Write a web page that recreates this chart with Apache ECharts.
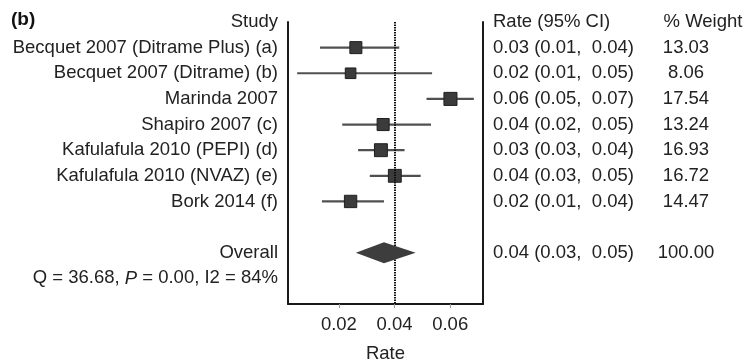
<!DOCTYPE html>
<html>
<head>
<meta charset="utf-8">
<script src="https://cdn.jsdelivr.net/npm/echarts@6/dist/echarts.min.js"></script>
<style>
  html, body { margin: 0; padding: 0; background: #fff; }
  #chart { width: 744px; height: 364px; }
</style>
</head>
<body>
<div id="chart"></div>
<script>
const studies = [
  "Becquet 2007 (Ditrame Plus) (a)",
  "Becquet 2007 (Ditrame) (b)",
  "Marinda 2007",
  "Shapiro 2007 (c)",
  "Kafulafula 2010 (PEPI) (d)",
  "Kafulafula 2010 (NVAZ) (e)",
  "Bork 2014 (f)",
];
const estimates = [0.0261, 0.0242, 0.0601, 0.0359, 0.0351, 0.0401, 0.0242];
const lower = [0.0132, 0.0050, 0.0515, 0.0212, 0.0269, 0.0311, 0.0139];
const upper = [0.0417, 0.0535, 0.0685, 0.0531, 0.0436, 0.0494, 0.0362];
const weights = [13.03, 8.06, 17.54, 13.24, 16.93, 16.72, 14.47];
const rateText = [
  "0.03 (0.01,  0.04)",
  "0.02 (0.01,  0.05)",
  "0.06 (0.05,  0.07)",
  "0.04 (0.02,  0.05)",
  "0.03 (0.03,  0.04)",
  "0.04 (0.03,  0.05)",
  "0.02 (0.01,  0.04)",
];
const overallEst = 0.0362;
const overallLower = 0.0261;
const overallUpper = 0.0476;
const overallText = "0.04 (0.03,  0.05)";
const overallWeight = "100.00";
const heterogeneity = "Q = 36.68, {i|P} = 0.00, I2 = 84%";
const xTicks = [0.02, 0.04, 0.06];

// row 0 is the header, studies on rows 1..7, overall on row 9
const overallRow = 9;
const textColor = "#222";
const font = "Liberation Sans, Arial, Helvetica, sans-serif";
const fontSize = 18.5;

const leftLabels = ["Study", ...studies, "", "Overall", heterogeneity, ""];
const rateLabels = ["Rate (95% CI)", ...rateText, "", overallText, "", ""];
const weightLabels = ["{h|% Weight}", ...weights.map((w) => w.toFixed(2)), "", overallWeight, "", ""];

const ciData = studies.map((s, i) => [lower[i], upper[i], i + 1]);
const pointData = studies.map((s, i) => [estimates[i], i + 1, weights[i]]);

const rowAxis = {
  type: "value",
  inverse: true,
  min: 0,
  max: 11,
  interval: 1,
  splitLine: { show: false },
  axisTick: { show: false },
};

const chart = echarts.init(document.getElementById("chart"));
chart.setOption({
  animation: false,
  textStyle: { fontFamily: font },
  grid: { left: 288, right: 261, top: 22, bottom: 60, outerBoundsMode: "none", containLabel: false },
  graphic: [
    {
      type: "text",
      left: 11,
      top: 10,
      style: { text: "(b)", font: "bold 19px " + font, fill: "#111" },
    },
  ],
  xAxis: {
    type: "value",
    min: 0.0017,
    max: 0.0718,
    name: "Rate",
    nameLocation: "middle",
    nameGap: 40,
    nameTextStyle: { color: textColor, fontSize: fontSize },
    axisLine: { show: true, onZero: false, lineStyle: { color: "#1a1a1a", width: 2 } },
    axisTick: { show: true, length: 4, customValues: xTicks, lineStyle: { color: "#999" } },
    axisLabel: {
      customValues: xTicks,
      color: textColor,
      fontSize: fontSize,
      margin: 11,
      formatter: (v) => v.toFixed(2),
    },
    splitLine: { show: false },
  },
  yAxis: [
    {
      ...rowAxis,
      position: "left",
      axisLine: { show: true, onZero: false, lineStyle: { color: "#1a1a1a", width: 2 } },
      axisLabel: {
        margin: 10,
        color: textColor,
        fontSize: fontSize,
        formatter: (v) => leftLabels[v] || "",
        rich: { i: { fontStyle: "italic", fontSize: fontSize, color: textColor } },
      },
    },
    {
      ...rowAxis,
      position: "right",
      axisLine: { show: true, onZero: false, lineStyle: { color: "#1a1a1a", width: 2 } },
      axisLabel: {
        margin: 10,
        color: textColor,
        fontSize: fontSize,
        formatter: (v) => rateLabels[v] || "",
      },
    },
    {
      ...rowAxis,
      position: "right",
      axisLine: { show: false },
      axisLabel: {
        margin: 203,
        align: "center",
        color: textColor,
        fontSize: fontSize,
        formatter: (v) => weightLabels[v] || "",
        rich: { h: { fontSize: fontSize, color: textColor, padding: [0, 0, 0, 34] } },
      },
    },
  ],
  series: [
    {
      type: "custom",
      z: 2,
      renderItem: (params, api) => {
        const a = api.coord([api.value(0), api.value(2)]);
        const b = api.coord([api.value(1), api.value(2)]);
        return {
          type: "line",
          shape: { x1: a[0], y1: a[1], x2: b[0], y2: b[1] },
          style: { stroke: "#505050", lineWidth: 2.2 },
        };
      },
      encode: { x: [0, 1], y: 2 },
      data: ciData,
    },
    {
      type: "scatter",
      z: 3,
      symbol: "rect",
      symbolSize: (d) => 5.5 + 1.8 * Math.sqrt(d[2]),
      itemStyle: { color: "#3b3b3b", borderColor: "#1e1e1e", borderWidth: 1, opacity: 1 },
      data: pointData,
    },
    {
      type: "scatter",
      z: 4,
      data: [],
      markLine: {
        silent: true,
        symbol: "none",
        label: { show: false },
        lineStyle: { color: "#111", width: 2, type: [1.5, 1] },
        data: [{ xAxis: overallEst }],
      },
    },
    {
      type: "custom",
      z: 5,
      renderItem: (params, api) => {
        const l = api.coord([api.value(0), api.value(3)]);
        const c = api.coord([api.value(1), api.value(3)]);
        const r = api.coord([api.value(2), api.value(3)]);
        const h = 10.5;
        return {
          type: "polygon",
          shape: { points: [l, [c[0], c[1] - h], r, [c[0], c[1] + h]] },
          style: { fill: "#3d3d3d" },
        };
      },
      encode: { x: [0, 1, 2], y: 3 },
      data: [[overallLower, overallEst, overallUpper, overallRow]],
    },
  ],
});
</script>
</body>
</html>
